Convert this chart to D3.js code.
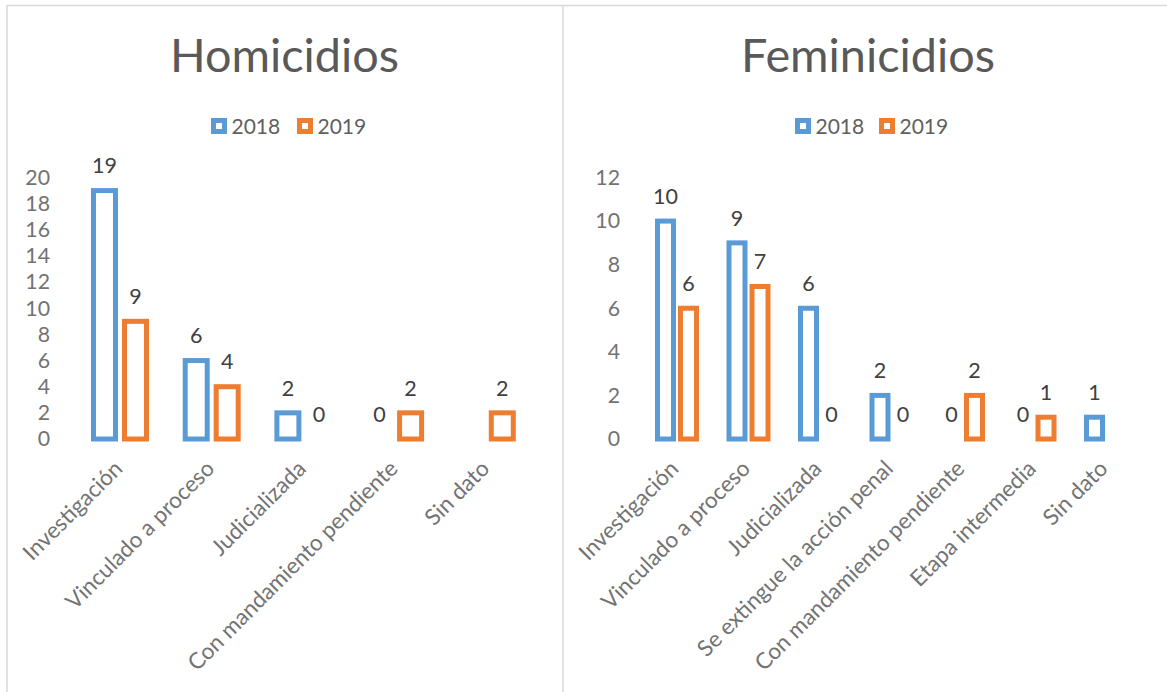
<!DOCTYPE html>
<html>
<head>
<meta charset="utf-8">
<script src="https://cdn.jsdelivr.net/npm/d3@7"></script>
<style>
  html, body { margin: 0; padding: 0; background: #fff; }
  svg { display: block; font-family: Lato, "Open Sans", sans-serif; }
</style>
</head>
<body>
<div id="vis"></div>
<script>
// datos
const years = ["2018", "2019"];
const colors = ["#5B9BD5", "#ED7D31"];

const homCats = ["Investigación", "Vinculado a proceso", "Judicializada", "Con mandamiento pendiente", "Sin dato"];
const hom2018 = [19, 6, 2, 0, null];
const hom2019 = [9, 4, 0, 2, 2];
const homTicks = [0, 2, 4, 6, 8, 10, 12, 14, 16, 18, 20];

const femCats = ["Investigación", "Vinculado a proceso", "Judicializada", "Se extingue la acción penal", "Con mandamiento pendiente", "Etapa intermedia", "Sin dato"];
const fem2018 = [10, 9, 6, 2, 0, 0, 1];
const fem2019 = [6, 7, 0, 0, 2, 1, null];
const femTicks = [0, 2, 4, 6, 8, 10, 12];

const W = 1167, H = 692;
const svg = d3.select("#vis").append("svg").attr("width", W).attr("height", H);

// bordes
svg.append("line").attr("x1", 7).attr("x2", W).attr("y1", 5.5).attr("y2", 5.5)
    .attr("stroke", "#d9d9d9").attr("stroke-width", 1.5);
svg.append("line").attr("x1", 7).attr("x2", 7).attr("y1", 5).attr("y2", H)
    .attr("stroke", "#d9d9d9").attr("stroke-width", 1.5);
svg.append("line").attr("x1", 563).attr("x2", 563).attr("y1", 5).attr("y2", H)
    .attr("stroke", "#d9d9d9").attr("stroke-width", 1.5);

function drawChart(cfg) {
    const g = svg.append("g");
    const rows = cfg.cats.map((c, i) => ({cat: c, vals: [cfg.a[i], cfg.b[i]]}));

    const y = d3.scaleLinear().domain([0, d3.max(cfg.ticks)]).range([439, 177.5]);
    const x0 = d3.scaleBand().domain(cfg.cats).range(cfg.xRange).paddingInner(0).paddingOuter(0);
    const mid = x0.bandwidth() / 2;
    const x1 = d3.scaleBand().domain(years).range([mid - cfg.pitch, mid + cfg.pitch]);
    const bw = cfg.outer - cfg.stroke;

    // título
    g.append("text")
        .attr("x", cfg.titleX).attr("y", 72)
        .attr("text-anchor", "middle")
        .attr("font-size", 46.8)
        .attr("fill", "#595959")
        .text(cfg.title);

    // leyenda
    const leg = g.append("g").attr("transform", `translate(${cfg.legendX},126)`);
    years.forEach((yr, i) => {
        const it = leg.append("g").attr("transform", `translate(${i * cfg.legendStep},0)`);
        it.append("rect").attr("x", 2.5).attr("y", -5.5).attr("width", 11).attr("height", 11)
            .attr("fill", "#fff").attr("stroke", colors[i]).attr("stroke-width", 5);
        it.append("text").attr("x", 20.5).attr("dy", "0.36em")
            .attr("font-size", 21).attr("fill", "#5f5f5f").text(yr);
    });

    // eje y
    const yAxis = g.append("g")
        .attr("transform", `translate(${cfg.tickX},0)`)
        .call(d3.axisLeft(y).tickValues(cfg.ticks).tickSize(0).tickPadding(0));
    yAxis.select(".domain").remove();
    yAxis.selectAll("text").attr("font-size", 21.3).attr("fill", "#737373")
        .attr("font-family", "Lato, 'Open Sans', sans-serif");

    // barras
    const grp = g.selectAll(".cat").data(rows).enter().append("g")
        .attr("transform", d => `translate(${x0(d.cat)},0)`);

    const items = grp.selectAll(".it")
        .data(d => d.vals.map((v, i) => ({yr: years[i], i: i, v: v})).filter(e => e.v !== null))
        .enter();

    items.filter(e => e.v > 0).append("rect")
        .attr("x", e => x1(e.yr) + (x1.bandwidth() - bw) / 2)
        .attr("y", e => y(e.v))
        .attr("width", bw)
        .attr("height", e => y(0) - y(e.v))
        .attr("fill", "#fff")
        .attr("stroke", e => colors[e.i])
        .attr("stroke-width", cfg.stroke);

    items.append("text")
        .attr("x", e => x1(e.yr) + x1.bandwidth() / 2)
        .attr("y", e => y(e.v) - 25)
        .attr("dy", "0.36em")
        .attr("text-anchor", "middle")
        .attr("font-size", 21.5)
        .attr("fill", "#404040")
        .text(e => e.v);

    // etiquetas de categoría
    g.selectAll(".lab").data(cfg.cats).enter().append("text")
        .attr("transform", d => `translate(${x0(d) + mid + cfg.labelShift},470) rotate(-45)`)
        .attr("text-anchor", "end")
        .attr("font-size", 22.5)
        .attr("fill", "#737373")
        .text(d => d);
}

drawChart({
    title: "Homicidios", cats: homCats, a: hom2018, b: hom2019, ticks: homTicks,
    xRange: [74.15, 532.65], pitch: 31, outer: 27, stroke: 5, labelShift: 4,
    titleX: 284.5, legendX: 211, legendStep: 86, tickX: 50
});

drawChart({
    title: "Feminicidios", cats: femCats, a: fem2018, b: fem2019, ticks: femTicks,
    xRange: [641.25, 1141.75], pitch: 23, outer: 21, stroke: 5, labelShift: 3,
    titleX: 868, legendX: 795, legendStep: 84, tickX: 620
});
</script>
</body>
</html>
